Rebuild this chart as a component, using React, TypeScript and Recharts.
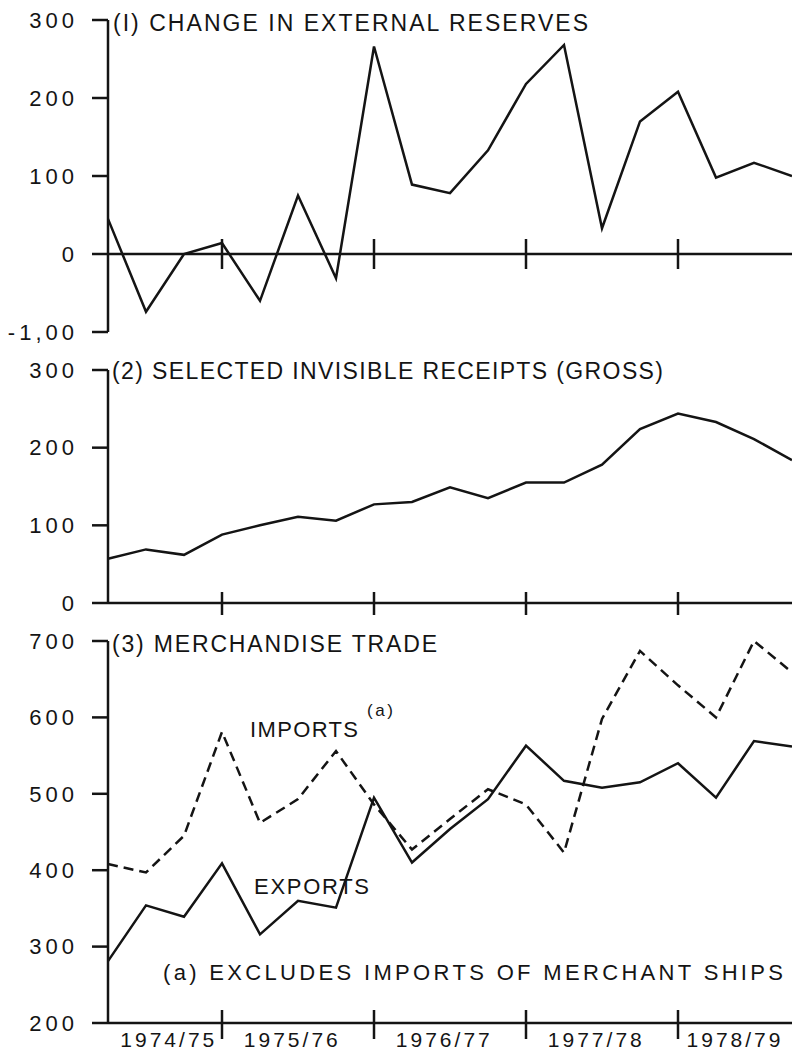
import React from "react";
import { LineChart, Line, XAxis, YAxis, ReferenceLine, ReferenceDot } from "recharts";

// quarterly points, 19 of them
const RESERVES = [45, -74, 0, 14, -60, 75, -31, 266, 89, 78, 133, 218, 268, 33, 170, 208, 98, 117, 100];
const INVISIBLES = [57, 69, 62, 88, 100, 111, 106, 127, 130, 149, 135, 155, 155, 178, 224, 244, 233, 211, 184];
const EXPORTS = [281, 354, 339, 409, 316, 360, 351, 495, 410, 454, 493, 563, 517, 508, 515, 540, 495, 569, 562];
const IMPORTS = [408, 397, 445, 581, 462, 493, 556, 486, 427, 467, 506, 486, 423, 598, 687, 642, 600, 700, 659];

const YEAR_LABELS = ["1974/75", "1975/76", "1976/77", "1977/78", "1978/79"];
const YEAR_LABEL_AT = [1.6, 4.85, 8.85, 12.85, 16.5];
const YEAR_ENDS = [3, 7, 11, 15];

const reservesData = RESERVES.map((v, q) => ({ q, v }));
const invisData = INVISIBLES.map((v, q) => ({ q, v }));
const tradeData = EXPORTS.map((v, q) => ({ q, exports: v, imports: IMPORTS[q] }));

const INK = "#141414";
const FONT = "'Liberation Sans', Arial, sans-serif";
const SW = 2.5;

const yAxisProps = {
  width: 108,
  tickSize: 16,
  tickMargin: 14,
  interval: 0 as const,
  axisLine: { stroke: INK, strokeWidth: SW },
  tickLine: { stroke: INK, strokeWidth: SW },
  tick: { fill: INK, fontSize: 22, fontFamily: FONT, letterSpacing: 4 },
};

const cross = (up: number, down: number) => (p: any) => (
  <line x1={p.cx} x2={p.cx} y1={p.cy - up} y2={p.cy + down} stroke={INK} strokeWidth={SW} />
);

const YearTick = (p: any) => (
  <text x={p.x} y={p.y} dy="0.71em" textAnchor="middle" fill={INK} fontSize={21} fontFamily={FONT} letterSpacing={3}>
    {YEAR_LABELS[YEAR_LABEL_AT.indexOf(p.payload.value)]}
  </text>
);

const Txt = ({ x, y, w, size = 22, children }: any) => (
  <text x={x} y={y} textLength={w} lengthAdjust="spacing" fontSize={size} fontFamily={FONT} fill={INK}>
    {children}
  </text>
);

export default function App() {
  return (
    <div style={{ position: "absolute", left: 0, top: 0, width: 792, height: 1055, background: "#fff", overflow: "hidden" }}>
      {/* (1) change in external reserves */}
      <div style={{ position: "absolute", left: 0, top: 0 }}>
        <LineChart width={792} height={345} data={reservesData} margin={{ top: 20, right: 0, bottom: 13, left: 0 }}>
          <XAxis type="number" dataKey="q" domain={[0, 18]} hide />
          <YAxis {...yAxisProps} domain={[-100, 300]} ticks={[-100, 0, 100, 200, 300]}
            tickFormatter={(v: number) => (v === -100 ? "-1,00" : String(v))} />
          <ReferenceLine y={0} stroke={INK} strokeWidth={SW} />
          {YEAR_ENDS.map((t) => <ReferenceDot key={t} x={t} y={0} r={0} shape={cross(15, 15)} />)}
          <Line dataKey="v" stroke={INK} strokeWidth={SW} dot={false} isAnimationActive={false} />
        </LineChart>
      </div>

      {/* (2) selected invisible receipts */}
      <div style={{ position: "absolute", left: 0, top: 340 }}>
        <LineChart width={792} height={275} data={invisData} margin={{ top: 30, right: 0, bottom: 12, left: 0 }}>
          <XAxis type="number" dataKey="q" domain={[0, 18]} hide />
          <YAxis {...yAxisProps} domain={[0, 300]} ticks={[0, 100, 200, 300]} />
          <ReferenceLine y={0} stroke={INK} strokeWidth={SW} />
          {YEAR_ENDS.map((t) => <ReferenceDot key={t} x={t} y={0} r={0} shape={cross(11, 17)} />)}
          <Line dataKey="v" stroke={INK} strokeWidth={SW} dot={false} isAnimationActive={false} />
        </LineChart>
      </div>

      {/* (3) merchandise trade */}
      <div style={{ position: "absolute", left: 0, top: 610 }}>
        <LineChart width={792} height={445} data={tradeData} margin={{ top: 31, right: 0, bottom: 0, left: 0 }}>
          <XAxis type="number" dataKey="q" domain={[0, 18]} ticks={YEAR_LABEL_AT} interval={0} height={32}
            tickLine={false} tickMargin={3} axisLine={{ stroke: INK, strokeWidth: SW }} tick={<YearTick />} />
          <YAxis {...yAxisProps} domain={[200, 700]} ticks={[200, 300, 400, 500, 600, 700]} />
          {YEAR_ENDS.map((t) => <ReferenceDot key={t} x={t} y={200} r={0} shape={cross(13, 16)} />)}
          <Line dataKey="imports" stroke={INK} strokeWidth={SW} strokeDasharray="10 6" dot={false} isAnimationActive={false} />
          <Line dataKey="exports" stroke={INK} strokeWidth={SW} dot={false} isAnimationActive={false} />
        </LineChart>
      </div>

      <svg width={792} height={1055} style={{ position: "absolute", left: 0, top: 0, pointerEvents: "none" }}>
        <Txt x={113} y={31} w={475} size={23}>(I) CHANGE IN EXTERNAL RESERVES</Txt>
        <Txt x={112} y={379} w={551} size={23}>(2) SELECTED INVISIBLE RECEIPTS (GROSS)</Txt>
        <Txt x={112} y={652} w={325} size={23}>(3) MERCHANDISE TRADE</Txt>
        <Txt x={250} y={737} w={108}>IMPORTS</Txt>
        <Txt x={367} y={716} w={26} size={17}>(a)</Txt>
        <Txt x={254} y={894} w={115}>EXPORTS</Txt>
        <Txt x={163} y={980} w={620}>(a) EXCLUDES IMPORTS OF MERCHANT SHIPS</Txt>
      </svg>
    </div>
  );
}
